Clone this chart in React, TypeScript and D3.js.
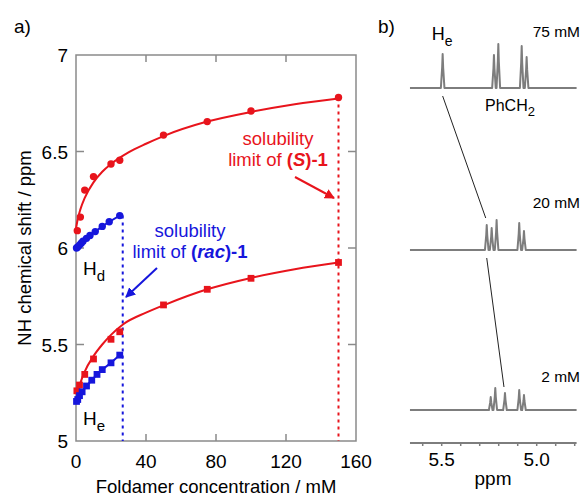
import * as d3 from "d3";

// ---- panel a) : NH chemical shift vs concentration ----
const xTicks = [0, 40, 80, 120, 160];
const yTicks = [5, 5.5, 6, 6.5, 7];
const yTickLabels = ["5", "5.5", "6", "6.5", "7"];

// Hd of (S)-1, red circles
const hdS: [number, number][] = [
  [0.75, 6.09], [2.5, 6.16], [5, 6.3], [10, 6.37], [20, 6.435],
  [25, 6.455], [50, 6.585], [75, 6.655], [100, 6.71], [150, 6.78],
];
// fitted curve for Hd of (S)-1
const hdSFit: [number, number][] = [
  [0, 6.1], [1, 6.15], [2.5, 6.2], [5, 6.26], [10, 6.34], [15, 6.395],
  [20, 6.435], [30, 6.495], [40, 6.54], [50, 6.58], [75, 6.655],
  [100, 6.705], [125, 6.745], [150, 6.775],
];
// Hd of (rac)-1, blue circles
const hdRac: [number, number][] = [
  [0.3, 6.0], [1, 6.005], [2, 6.015], [3, 6.025], [4, 6.035], [6, 6.05],
  [8, 6.065], [11, 6.085], [15, 6.112], [19, 6.136], [25, 6.168],
];
// He of (S)-1, red squares
const heS: [number, number][] = [
  [0.5, 5.26], [2, 5.29], [5, 5.345], [10, 5.425], [20, 5.527],
  [25, 5.566], [50, 5.705], [75, 5.786], [100, 5.843], [150, 5.925],
];
const heSFit: [number, number][] = [
  [0, 5.21], [2.5, 5.3], [5, 5.36], [10, 5.44], [15, 5.5], [20, 5.55],
  [27, 5.605], [40, 5.665], [50, 5.703], [75, 5.786], [100, 5.845],
  [125, 5.89], [150, 5.925],
];
// He of (rac)-1, blue squares
const heRac: [number, number][] = [
  [0.3, 5.205], [1, 5.215], [2, 5.235], [3.5, 5.255], [6, 5.285],
  [9, 5.315], [12, 5.345], [15, 5.37], [20, 5.405], [25, 5.445],
];
const limitRac = 26.7;
const limitS = 150;

// ---- panel b) : 1H NMR spectra ----
const spectrumLabels = ["75 mM", "20 mM", "2 mM"];
// [ppm, intensity]
const peaks75: [number, number][] = [
  [5.495, 34], [5.225, 33], [5.202, 44], [5.079, 42], [5.053, 31],
];
const peaks20: [number, number][] = [
  [5.263, 25], [5.237, 22], [5.211, 30], [5.092, 27], [5.067, 19],
];
const peaks2: [number, number][] = [
  [5.242, 13], [5.218, 22], [5.167, 17], [5.092, 20], [5.067, 15],
];
const hePpm = [5.495, 5.263, 5.167];
const ppmTicks = [5.6, 5.5, 5.4, 5.3, 5.2, 5.1, 5.0, 4.9, 4.8];
const ppmLabels = [5.5, 5.0];

const FONT = "'Liberation Sans', Arial, Helvetica, sans-serif";
const RED = "#e8141c";
const BLUE = "#1616dc";
const AXIS = "#8a8a8a";
const SPEC = "#7d7d7d";

const x = d3.scaleLinear().domain([0, 160]).range([76, 356]);
const y = d3.scaleLinear().domain([5, 7]).range([441, 55]);

const ppm = d3.scaleLinear().domain([5.5, 5.0]).range([441.7, 536.7]);
const inten = d3.scaleLinear().domain([0, 50]).range([0, 50]);
const baselines = [88, 250, 410];
const ppmRange = [5.667, 4.79];

const fitLine = d3
  .line<[number, number]>()
  .x((d) => x(d[0]))
  .y((d) => y(d[1]))
  .curve(d3.curveMonotoneX);
const linLine = d3
  .line<[number, number]>()
  .x((d) => x(d[0]))
  .y((d) => y(d[1]));

function spectrumPath(peaks: [number, number][], base: number) {
  const sorted = [...peaks].sort((a, b) => b[0] - a[0]);
  const pts: [number, number][] = [[ppm(ppmRange[0]), base]];
  sorted.forEach(([p, h]) => {
    pts.push([ppm(p) - 1.8, base]);
    pts.push([ppm(p) - 0.5, base - inten(h) * 0.6]);
    pts.push([ppm(p), base - inten(h)]);
    pts.push([ppm(p) + 0.5, base - inten(h) * 0.6]);
    pts.push([ppm(p) + 1.8, base]);
  });
  pts.push([ppm(ppmRange[1]), base]);
  return d3.line()(pts) as string;
}

const App = () => {
  const spectra = [peaks75, peaks20, peaks2];
  const heights = spectra.map((s, i) => s.find((p) => p[0] === hePpm[i])?.[1] ?? 0);
  const labelOffset = [-51, -42, -28];
  return (
    <svg
      width={582}
      height={497}
      style={{ position: "absolute", left: 0, top: 0, background: "#fff" }}
      fontFamily={FONT}
    >
      <defs>
        <marker id="arrR" viewBox="0 0 10 10" refX="9" refY="5" markerWidth="5" markerHeight="5" orient="auto">
          <path d="M0,0 L10,5 L0,10 z" fill={RED} />
        </marker>
        <marker id="arrB" viewBox="0 0 10 10" refX="9" refY="5" markerWidth="5" markerHeight="5" orient="auto">
          <path d="M0,0 L10,5 L0,10 z" fill={BLUE} />
        </marker>
      </defs>

      {/* panel a */}
      <text x={14} y={33} fontSize={19}>a)</text>

      {/* frame */}
      <rect x={x(0)} y={y(7)} width={x(160) - x(0)} height={y(5) - y(7)} fill="none" stroke={AXIS} strokeWidth={1.5} />
      {xTicks.slice(1, -1).map((t) => (
        <g key={"xt" + t}>
          <line x1={x(t)} x2={x(t)} y1={y(5)} y2={y(5) - 7} stroke={AXIS} strokeWidth={1.5} />
          <line x1={x(t)} x2={x(t)} y1={y(7)} y2={y(7) + 7} stroke={AXIS} strokeWidth={1.5} />
        </g>
      ))}
      {yTicks.slice(1, -1).map((t) => (
        <g key={"yt" + t}>
          <line x1={x(0)} x2={x(0) + 8} y1={y(t)} y2={y(t)} stroke={AXIS} strokeWidth={1.5} />
          <line x1={x(160)} x2={x(160) - 8} y1={y(t)} y2={y(t)} stroke={AXIS} strokeWidth={1.5} />
        </g>
      ))}
      {xTicks.map((t) => (
        <text key={"xl" + t} x={x(t)} y={y(5) + 27} fontSize={19} textAnchor="middle">{t}</text>
      ))}
      {yTicks.map((t, i) => (
        <text key={"yl" + t} x={x(0) - 8} y={y(t) + 7} fontSize={19} textAnchor="end">{yTickLabels[i]}</text>
      ))}
      <text x={216} y={493} fontSize={18.5} textAnchor="middle">Foldamer concentration / mM</text>
      <text transform={`translate(31,${(y(5) + y(7)) / 2}) rotate(-90)`} fontSize={18.5} textAnchor="middle">
        NH chemical shift / ppm
      </text>

      {/* solubility limits */}
      <line x1={x(limitRac)} x2={x(limitRac)} y1={y(hdRac[hdRac.length - 1][1])} y2={y(5)} stroke={BLUE} strokeWidth={2} strokeDasharray="3,4" />
      <line x1={x(limitS)} x2={x(limitS)} y1={y(hdS[hdS.length - 1][1])} y2={y(5)} stroke={RED} strokeWidth={2} strokeDasharray="3,4" />

      {/* curves */}
      <path d={fitLine(hdSFit) as string} fill="none" stroke={RED} strokeWidth={2} />
      <path d={fitLine(heSFit) as string} fill="none" stroke={RED} strokeWidth={2} />
      <path d={linLine(hdRac) as string} fill="none" stroke={BLUE} strokeWidth={2} />
      <path d={linLine(heRac) as string} fill="none" stroke={BLUE} strokeWidth={2} />

      {/* markers */}
      {hdS.map((d, i) => (
        <circle key={"hs" + i} cx={x(d[0])} cy={y(d[1])} r={3.7} fill={RED} />
      ))}
      {hdRac.map((d, i) => (
        <circle key={"hr" + i} cx={x(d[0])} cy={y(d[1])} r={3.7} fill={BLUE} />
      ))}
      {heS.map((d, i) => (
        <rect key={"es" + i} x={x(d[0]) - 3.4} y={y(d[1]) - 3.4} width={6.8} height={6.8} fill={RED} />
      ))}
      {heRac.map((d, i) => (
        <rect key={"er" + i} x={x(d[0]) - 3.4} y={y(d[1]) - 3.4} width={6.8} height={6.8} fill={BLUE} />
      ))}

      {/* labels Hd / He */}
      <text x={83} y={275} fontSize={19}>
        H<tspan dy={6} fontSize={15}>d</tspan>
      </text>
      <text x={83} y={425} fontSize={19}>
        H<tspan dy={6} fontSize={15}>e</tspan>
      </text>

      {/* annotations */}
      <g fill={BLUE} fontSize={18.5} textAnchor="middle">
        <text x={190} y={237}>solubility</text>
        <text x={190} y={258}>
          limit of <tspan fontWeight="bold">(</tspan>
          <tspan fontWeight="bold" fontStyle="italic">rac</tspan>
          <tspan fontWeight="bold">)-1</tspan>
        </text>
      </g>
      <line x1={157} y1={268} x2={126} y2={297} stroke={BLUE} strokeWidth={2} markerEnd="url(#arrB)" />
      <g fill={RED} fontSize={18.5} textAnchor="middle">
        <text x={278} y={145}>solubility</text>
        <text x={278} y={166}>
          limit of <tspan fontWeight="bold">(</tspan>
          <tspan fontWeight="bold" fontStyle="italic">S</tspan>
          <tspan fontWeight="bold">)-1</tspan>
        </text>
      </g>
      <line x1={295} y1={177} x2={334} y2={198} stroke={RED} strokeWidth={2} markerEnd="url(#arrR)" />

      {/* panel b */}
      <text x={378} y={33} fontSize={19}>b)</text>
      {spectra.map((s, i) => (
        <path key={"sp" + i} d={spectrumPath(s, baselines[i])} fill="none" stroke={SPEC} strokeWidth={2} strokeLinejoin="round" />
      ))}
      {spectrumLabels.map((l, i) => (
        <text key={"sl" + i} x={580} y={baselines[i] + labelOffset[i]} fontSize={15.5} textAnchor="end">{l}</text>
      ))}
      {/* He shift connectors */}
      <line x1={ppm(hePpm[0])} y1={baselines[0] + 8} x2={ppm(hePpm[1]) - 1} y2={baselines[1] - inten(heights[1]) - 7} stroke="#222" strokeWidth={1} />
      <line x1={ppm(hePpm[1])} y1={baselines[1] + 8} x2={ppm(hePpm[2]) - 1} y2={baselines[2] - inten(heights[2]) - 6} stroke="#222" strokeWidth={1} />
      <text x={ppm(hePpm[0]) - 11} y={40} fontSize={18}>
        H<tspan dy={6} fontSize={14}>e</tspan>
      </text>
      <text x={485} y={111} fontSize={16}>
        PhCH<tspan dy={5} fontSize={13}>2</tspan>
      </text>

      {/* ppm axis */}
      <line x1={ppm(ppmRange[0])} x2={ppm(ppmRange[1])} y1={443} y2={443} stroke={SPEC} strokeWidth={2} />
      {ppmTicks.map((t) => (
        <line key={"pt" + t} x1={ppm(t)} x2={ppm(t)} y1={443} y2={446} stroke={SPEC} strokeWidth={1.5} />
      ))}
      {ppmLabels.map((t) => (
        <text key={"pl" + t} x={ppm(t)} y={466} fontSize={19} textAnchor="middle">{t.toFixed(1)}</text>
      ))}
      <text x={493} y={485} fontSize={19} textAnchor="middle">ppm</text>
    </svg>
  );
};

export default App;
